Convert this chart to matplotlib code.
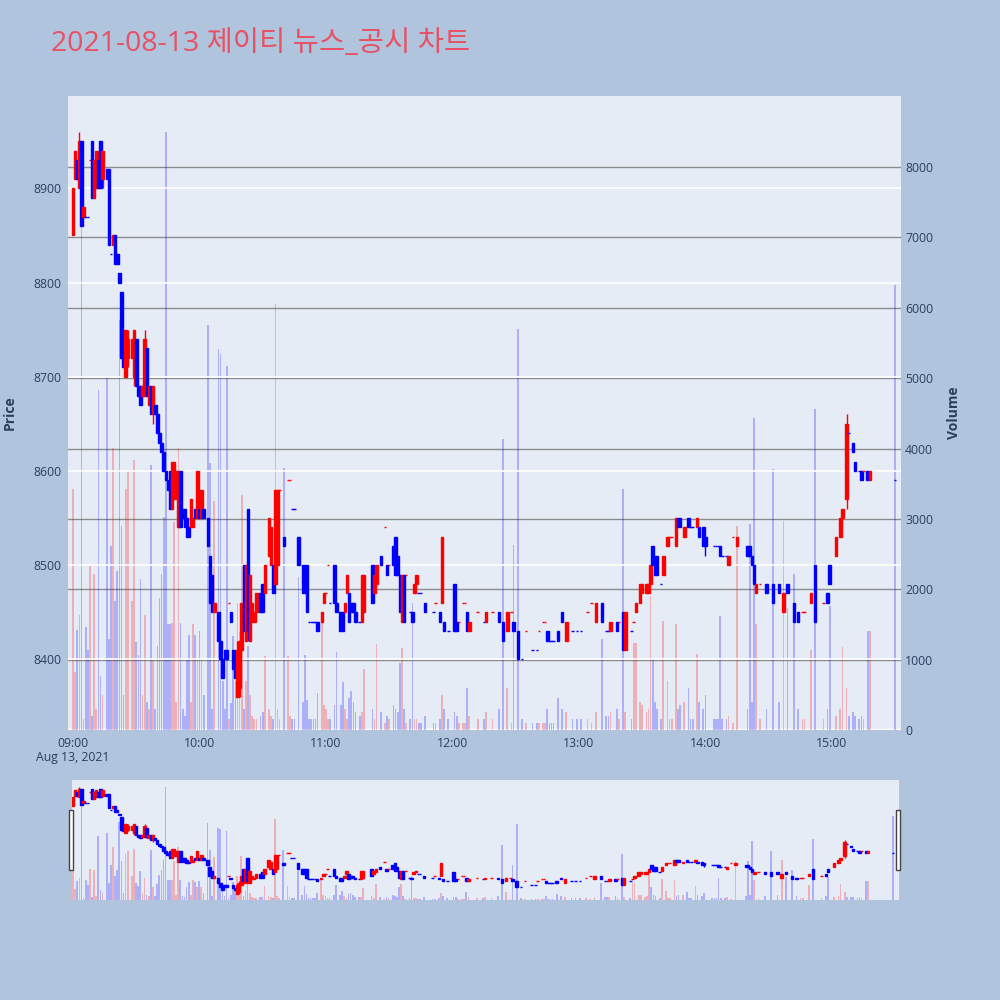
import matplotlib
matplotlib.use('Agg')
import matplotlib.pyplot as plt
from matplotlib.patches import Rectangle
import numpy as np

plt.rcParams['font.family'] = ['Open Sans', 'Noto Sans CJK KR', 'DejaVu Sans']

title = '2021-08-13 제이티 뉴스_공시 차트'
time_ticks = [0, 60, 120, 180, 240, 300, 360]
time_labels = ['09:00', '10:00', '11:00', '12:00', '13:00', '14:00', '15:00']
date_label = 'Aug 13, 2021'
price_ticks = [8400, 8500, 8600, 8700, 8800, 8900]
volume_ticks = [0, 1000, 2000, 3000, 4000, 5000, 6000, 7000, 8000]

# minutes after 09:00
minutes = [0, 1, 2, 3, 4, 5, 6, 7, 8, 9, 10, 11, 12, 13, 14,
           16, 17, 18, 19, 20, 21, 22, 23, 24, 25, 26, 28, 29, 30, 31, 32, 33, 34, 35, 36, 37, 38, 39,
           40, 41, 42, 43, 44, 45, 46, 47, 48, 49, 50, 51, 52, 53, 54, 55, 56, 57, 58, 59, 60, 61, 62,
           64, 65, 66, 67, 69, 70, 71, 72, 73, 74, 75, 76, 77, 78, 79, 80, 81, 82, 83, 84, 85, 86, 87, 89, 90, 91, 93, 94, 95, 96, 97, 98,
           100, 102, 103, 104, 105, 107, 109, 110, 111, 112, 113, 114, 115, 116, 118, 119, 120, 121, 122, 124, 125, 127, 128, 129, 130, 131, 132, 133, 134, 136, 137, 138,
           142, 143, 144, 146, 148, 149, 150, 152, 153, 154, 155, 156, 157, 158, 160, 161, 162, 163, 164, 165, 167, 171, 172, 174, 175, 176, 178, 181, 182, 183, 185, 186, 187, 188, 192, 195, 196, 199,
           202, 204, 206, 208, 209, 211, 213, 215, 218, 220, 221, 223, 224, 225, 226, 227, 228, 230, 232, 234, 237, 239, 241, 244, 246,
           248, 251, 253, 254, 255, 258, 259, 261, 262, 265, 266, 267, 269, 270, 272, 273, 274, 275, 276, 277, 279, 280, 282, 283, 284, 286, 287, 288, 290, 292, 293, 294, 296, 297, 299, 300,
           304, 305, 306, 307, 308, 310, 311, 313, 315, 320, 321, 322, 323, 324, 326, 329, 332, 335, 337, 339, 342, 344, 346, 347, 350, 352, 356, 358, 359, 362, 364, 365, 367, 368, 370, 371, 373, 374, 375, 377, 378, 390]

opens = [8850, 8910, 8930, 8900, 8950, 8870, 8870, 8870, 8930, 8950, 8890, 8900, 8930, 8950, 8910,
         8920, 8920, 8830, 8840, 8850, 8830, 8810, 8790, 8720, 8700, 8720, 8720, 8700, 8740, 8690, 8690, 8680, 8680, 8730, 8670, 8690, 8660, 8670,
         8660, 8640, 8630, 8620, 8600, 8590, 8600, 8560, 8570, 8570, 8540, 8600, 8560, 8560, 8550, 8540, 8540, 8540, 8560, 8550, 8560, 8550, 8560,
         8550, 8510, 8490, 8450, 8450, 8420, 8400, 8410, 8410, 8460, 8450, 8410, 8390, 8360, 8370, 8410, 8500, 8420, 8560, 8420, 8440, 8440, 8450, 8470, 8480, 8470, 8510, 8500, 8500, 8480, 8500, 8580,
         8530, 8590, 8590, 8560, 8560, 8530, 8500, 8500, 8500, 8440, 8440, 8440, 8440, 8440, 8440, 8460, 8470, 8500, 8460, 8500, 8460, 8450, 8450, 8450, 8470, 8470, 8460, 8460, 8450, 8440, 8440, 8450,
         8500, 8470, 8480, 8510, 8540, 8500, 8500, 8520, 8530, 8510, 8490, 8440, 8490, 8490, 8450, 8450, 8470, 8480, 8470, 8470, 8460, 8450, 8460, 8450, 8460, 8440, 8430, 8480, 8440, 8440, 8460, 8460, 8450, 8430, 8450, 8440, 8440, 8450,
         8450, 8440, 8430, 8450, 8440, 8430, 8400, 8430, 8410, 8410, 8430, 8440, 8440, 8430, 8420, 8420, 8420, 8430, 8450, 8420, 8430, 8430, 8430, 8450, 8460,
         8440, 8460, 8430, 8430, 8430, 8440, 8440, 8450, 8410, 8430, 8440, 8450, 8460, 8470, 8470, 8470, 8480, 8520, 8510, 8510, 8480, 8490, 8520, 8530, 8530, 8520, 8550, 8550, 8530, 8550, 8540, 8540, 8540, 8540, 8540, 8530,
         8520, 8520, 8520, 8520, 8510, 8510, 8500, 8530, 8520, 8520, 8520, 8510, 8500, 8470, 8480, 8480, 8480, 8480, 8450, 8480, 8460, 8450, 8450, 8450, 8460, 8500, 8460, 8470, 8500, 8510, 8530, 8550, 8570, 8640, 8630, 8610, 8600, 8600, 8600, 8600, 8590, 8590]

highs = [8900, 8940, 8930, 8960, 8950, 8880, 8870, 8870, 8930, 8950, 8930, 8940, 8930, 8950, 8940,
         8920, 8920, 8830, 8850, 8850, 8830, 8810, 8790, 8720, 8750, 8750, 8740, 8750, 8740, 8690, 8690, 8690, 8750, 8730, 8690, 8690, 8690, 8670,
         8660, 8640, 8630, 8620, 8600, 8590, 8600, 8610, 8610, 8600, 8600, 8600, 8560, 8560, 8550, 8540, 8570, 8550, 8560, 8600, 8560, 8580, 8560,
         8550, 8510, 8490, 8460, 8450, 8420, 8400, 8410, 8410, 8460, 8450, 8410, 8390, 8420, 8430, 8460, 8500, 8500, 8560, 8490, 8460, 8450, 8470, 8470, 8480, 8500, 8550, 8540, 8500, 8580, 8580, 8580,
         8530, 8590, 8590, 8560, 8560, 8530, 8500, 8500, 8500, 8440, 8440, 8440, 8440, 8440, 8450, 8470, 8470, 8500, 8460, 8500, 8460, 8450, 8450, 8460, 8490, 8470, 8460, 8460, 8450, 8440, 8490, 8490,
         8500, 8490, 8500, 8510, 8540, 8500, 8500, 8520, 8530, 8510, 8490, 8490, 8490, 8490, 8450, 8450, 8480, 8490, 8470, 8470, 8460, 8450, 8460, 8450, 8530, 8440, 8430, 8480, 8440, 8440, 8460, 8460, 8450, 8440, 8450, 8440, 8450, 8450,
         8450, 8440, 8450, 8450, 8440, 8430, 8400, 8430, 8410, 8410, 8430, 8440, 8440, 8430, 8420, 8420, 8420, 8430, 8450, 8440, 8430, 8430, 8430, 8450, 8460,
         8460, 8460, 8430, 8430, 8440, 8440, 8440, 8450, 8450, 8430, 8440, 8460, 8480, 8480, 8480, 8480, 8500, 8520, 8510, 8510, 8480, 8510, 8530, 8530, 8530, 8550, 8550, 8550, 8540, 8550, 8540, 8540, 8550, 8540, 8540, 8530,
         8520, 8520, 8520, 8520, 8510, 8510, 8510, 8530, 8530, 8520, 8520, 8510, 8500, 8480, 8480, 8480, 8480, 8480, 8470, 8480, 8460, 8450, 8450, 8450, 8470, 8500, 8460, 8470, 8500, 8530, 8550, 8560, 8660, 8640, 8630, 8610, 8600, 8600, 8600, 8600, 8600, 8590]

lows = [8850, 8910, 8910, 8900, 8860, 8870, 8870, 8870, 8930, 8890, 8890, 8900, 8900, 8900, 8900,
        8910, 8840, 8830, 8840, 8820, 8820, 8800, 8720, 8710, 8700, 8710, 8720, 8690, 8690, 8680, 8670, 8680, 8680, 8680, 8670, 8660, 8650, 8660,
        8640, 8630, 8620, 8600, 8590, 8580, 8560, 8560, 8570, 8570, 8540, 8540, 8550, 8540, 8530, 8530, 8540, 8540, 8550, 8550, 8550, 8550, 8550,
        8520, 8460, 8450, 8450, 8420, 8400, 8380, 8400, 8400, 8460, 8440, 8390, 8380, 8360, 8360, 8410, 8430, 8420, 8420, 8420, 8440, 8440, 8450, 8450, 8450, 8470, 8510, 8500, 8470, 8480, 8500, 8580,
        8520, 8590, 8590, 8560, 8560, 8500, 8470, 8470, 8450, 8440, 8440, 8440, 8440, 8430, 8440, 8460, 8470, 8500, 8460, 8460, 8450, 8430, 8430, 8450, 8470, 8440, 8450, 8450, 8440, 8440, 8440, 8450,
        8460, 8470, 8480, 8500, 8540, 8490, 8500, 8500, 8490, 8490, 8450, 8440, 8440, 8490, 8450, 8440, 8470, 8480, 8470, 8470, 8450, 8450, 8460, 8440, 8460, 8430, 8430, 8430, 8430, 8440, 8460, 8460, 8430, 8430, 8450, 8440, 8440, 8450,
        8440, 8420, 8430, 8450, 8430, 8400, 8400, 8430, 8410, 8410, 8430, 8440, 8440, 8420, 8420, 8420, 8420, 8420, 8440, 8420, 8430, 8430, 8430, 8450, 8460,
        8440, 8440, 8430, 8430, 8430, 8430, 8440, 8410, 8410, 8430, 8440, 8450, 8460, 8470, 8470, 8470, 8480, 8500, 8490, 8490, 8480, 8490, 8520, 8530, 8530, 8520, 8540, 8540, 8530, 8540, 8540, 8540, 8540, 8530, 8520, 8510,
        8520, 8520, 8520, 8510, 8510, 8510, 8500, 8530, 8520, 8510, 8510, 8500, 8480, 8470, 8480, 8470, 8460, 8470, 8450, 8470, 8440, 8440, 8450, 8450, 8460, 8440, 8460, 8460, 8480, 8510, 8530, 8550, 8560, 8640, 8620, 8600, 8600, 8590, 8600, 8590, 8590, 8590]

closes = [8900, 8940, 8910, 8950, 8860, 8880, 8870, 8870, 8930, 8890, 8930, 8940, 8900, 8900, 8940,
          8910, 8840, 8830, 8850, 8820, 8820, 8800, 8720, 8710, 8750, 8740, 8740, 8750, 8690, 8680, 8670, 8690, 8740, 8680, 8690, 8660, 8690, 8660,
          8640, 8630, 8620, 8600, 8590, 8580, 8560, 8610, 8610, 8600, 8600, 8540, 8550, 8540, 8530, 8530, 8570, 8550, 8550, 8600, 8550, 8580, 8550,
          8520, 8460, 8450, 8460, 8420, 8400, 8380, 8400, 8400, 8460, 8440, 8390, 8380, 8410, 8420, 8460, 8430, 8500, 8430, 8490, 8460, 8450, 8470, 8450, 8450, 8500, 8550, 8540, 8470, 8580, 8580, 8580,
          8520, 8590, 8590, 8560, 8560, 8500, 8470, 8470, 8450, 8440, 8440, 8440, 8440, 8430, 8450, 8470, 8470, 8500, 8460, 8460, 8450, 8430, 8430, 8460, 8490, 8440, 8450, 8450, 8440, 8440, 8490, 8490,
          8460, 8490, 8500, 8500, 8540, 8490, 8500, 8500, 8490, 8490, 8450, 8490, 8440, 8490, 8450, 8440, 8480, 8490, 8470, 8470, 8450, 8450, 8460, 8440, 8530, 8430, 8430, 8430, 8430, 8440, 8460, 8460, 8430, 8440, 8450, 8440, 8450, 8450,
          8440, 8420, 8450, 8450, 8430, 8400, 8400, 8430, 8410, 8410, 8430, 8440, 8440, 8420, 8420, 8420, 8420, 8420, 8440, 8440, 8430, 8430, 8430, 8450, 8460,
          8460, 8440, 8430, 8430, 8440, 8430, 8440, 8410, 8450, 8430, 8440, 8460, 8480, 8480, 8480, 8480, 8500, 8500, 8490, 8490, 8480, 8510, 8530, 8530, 8530, 8550, 8540, 8540, 8540, 8540, 8540, 8540, 8550, 8530, 8520, 8520,
          8520, 8520, 8520, 8510, 8510, 8510, 8510, 8530, 8530, 8510, 8510, 8500, 8480, 8480, 8480, 8470, 8460, 8470, 8470, 8470, 8440, 8440, 8450, 8450, 8470, 8440, 8460, 8460, 8480, 8530, 8550, 8560, 8650, 8640, 8620, 8600, 8600, 8590, 8600, 8590, 8600, 8590]

volumes = [3430, 825, 1420, 1640, 7200, 150, 1470, 1140, 2330, 200, 2220, 300, 4830, 765, 500,
           5030, 1300, 2620, 4010, 1830, 2260, 5820, 2900, 500, 3430, 3700, 1830, 3840, 1250, 1070, 2150, 500, 1640, 400, 300, 3760, 1000, 300,
           1190, 1870, 2220, 3030, 8500, 1500, 1500, 1520, 2960, 400, 4010, 1520, 300, 200, 1000, 1350, 400, 1500, 1350, 1000, 1400, 1000, 500,
           5750, 3790, 300, 3260, 5410, 5340, 700, 300, 5180, 150, 380, 1340, 700, 1810, 1100, 3340, 300, 700, 1200, 500, 200, 150, 150, 200, 250, 1050, 300, 200, 150, 6050, 300, 150,
           3730, 1050, 200, 150, 150, 2180, 400, 1060, 420, 150, 150, 150, 150, 530, 1660, 350, 300, 150, 150, 350, 1110, 350, 680, 300, 150, 450, 560, 400, 250, 200, 250, 870,
           300, 150, 1220, 250, 100, 200, 150, 350, 300, 250, 950, 1170, 300, 100, 150, 1800, 150, 150, 100, 100, 200, 100, 100, 150, 500, 300, 150, 250, 200, 100, 100, 100, 600, 200, 150, 150, 250, 150,
           300, 4140, 600, 100, 2630, 5700, 150, 100, 100, 100, 100, 100, 100, 300, 100, 100, 100, 450, 300, 250, 150, 150, 150, 150, 100,
           250, 1300, 200, 200, 250, 300, 150, 3430, 250, 150, 1240, 1240, 400, 350, 250, 300, 1900, 1000, 400, 300, 150, 1550, 700, 150, 150, 1500, 300, 350, 400, 600, 150, 150, 1080, 400, 300, 500,
           150, 150, 150, 1620, 150, 150, 200, 100, 2900, 300, 2930, 400, 4440, 1500, 150, 300, 3710, 400, 2970, 1730, 2220, 300, 150, 150, 1140, 4560, 150, 300, 1760, 200, 300, 1180, 600, 200, 250, 200, 150, 200, 150, 1400, 1400, 6320]

n = min(len(minutes), len(opens), len(highs), len(lows), len(closes), len(volumes))
m = np.array(minutes[:n], float)
o = np.array(opens[:n], float)
h = np.array(highs[:n], float)
l = np.array(lows[:n], float)
c = np.array(closes[:n], float)
v = np.array(volumes[:n], float)

# direction rule as in plotly candlestick
inc = []
prev_c = None
prev_inc = True
for oi, ci in zip(o, c):
    if ci == oi:
        if prev_c is not None and ci != prev_c:
            d = ci > prev_c
        else:
            d = prev_inc
    else:
        d = ci > oi
    inc.append(d)
    prev_inc = d
    prev_c = ci

RED = '#ff0000'
BLUE = '#0000ff'
cols = [RED if d else BLUE for d in inc]

BG = '#b0c4de'
PLOT_BG = '#e5ecf6'
TXT = '#2a3f5f'

fig = plt.figure(figsize=(10, 10), dpi=100, facecolor=BG)

PRICE_LIM = (8325, 8998)
VOL_LIM = (0, 9010)


def draw(axv, axp, body_w, lw):
    axv.bar(m, v, width=0.8, color=cols, alpha=0.25, linewidth=0, zorder=2)
    axp.vlines(m, l, h, colors=cols, linewidth=1, zorder=3)
    for mi, oi, ci, col in zip(m, o, c, cols):
        lo = min(oi, ci)
        axp.add_patch(Rectangle((mi - body_w / 2, lo), body_w, abs(ci - oi),
                                facecolor=col, edgecolor=col, linewidth=lw,
                                joinstyle='miter', zorder=4))


# main chart
axv = fig.add_axes([0.068, 0.270, 0.833, 0.634])
axv.set_facecolor(PLOT_BG)
axp = axv.twinx()
axp.patch.set_visible(False)
axv.set_xlim(-2.4, 392.8)
axv.set_ylim(*VOL_LIM)
axp.set_ylim(*PRICE_LIM)

axv.yaxis.tick_right()
axp.yaxis.tick_left()
axv.set_yticks(volume_ticks)
axv.set_yticklabels([str(t) for t in volume_ticks])
axp.set_yticks(price_ticks)
axp.set_yticklabels([str(t) for t in price_ticks])
axv.set_xticks(time_ticks)
axv.set_xticklabels(time_labels)
for a in (axv, axp):
    for s in a.spines.values():
        s.set_visible(False)
    a.tick_params(length=0, colors=TXT, labelsize=8.8)
axv.tick_params(axis='y', pad=3)
axp.tick_params(axis='y', pad=5)
axv.tick_params(axis='x', pad=5)

axv.set_axisbelow(True)
axv.grid(axis='y', color='#8c8c8c', linewidth=1)
axv.grid(axis='x', visible=False)
axv.axhline(0, color='white', linewidth=2.5, zorder=1)
axp.set_axisbelow(True)
axp.grid(axis='y', color='white', linewidth=1.2)
axp.grid(axis='x', visible=False)

draw(axv, axp, 1.2, 1.0)

fig.text(0.073, 1 - 0.758, date_label, ha='center', va='center', color=TXT, fontsize=8.8)
fig.text(0.010, 1 - 0.413, 'Price', rotation=90, ha='center', va='center',
         color=TXT, fontsize=10, fontweight='bold')
fig.text(0.954, 1 - 0.413, 'Volume', rotation=90, ha='center', va='center',
         color=TXT, fontsize=10, fontweight='bold')
fig.text(0.051, 1 - 0.051, title, ha='left', va='baseline', color='#e85064', fontsize=20.5)

# range slider
sv = fig.add_axes([0.072, 0.100, 0.827, 0.120])
sv.set_facecolor(PLOT_BG)
sp = sv.twinx()
sp.patch.set_visible(False)
sv.set_xlim(-0.5, 392.8)
sv.set_ylim(*VOL_LIM)
sp.set_ylim(*PRICE_LIM)
for a in (sv, sp):
    a.set_xticks([])
    a.set_yticks([])
    for s in a.spines.values():
        s.set_visible(False)
draw(sv, sp, 1.2, 1.0)

for hx in (0.069, 0.896):
    fig.add_artist(Rectangle((hx, 1 - 0.870), 0.004, 0.060, transform=fig.transFigure,
                             facecolor='white', edgecolor='#444444', linewidth=1))

fig.savefig('out.png', dpi=100, facecolor=BG)
